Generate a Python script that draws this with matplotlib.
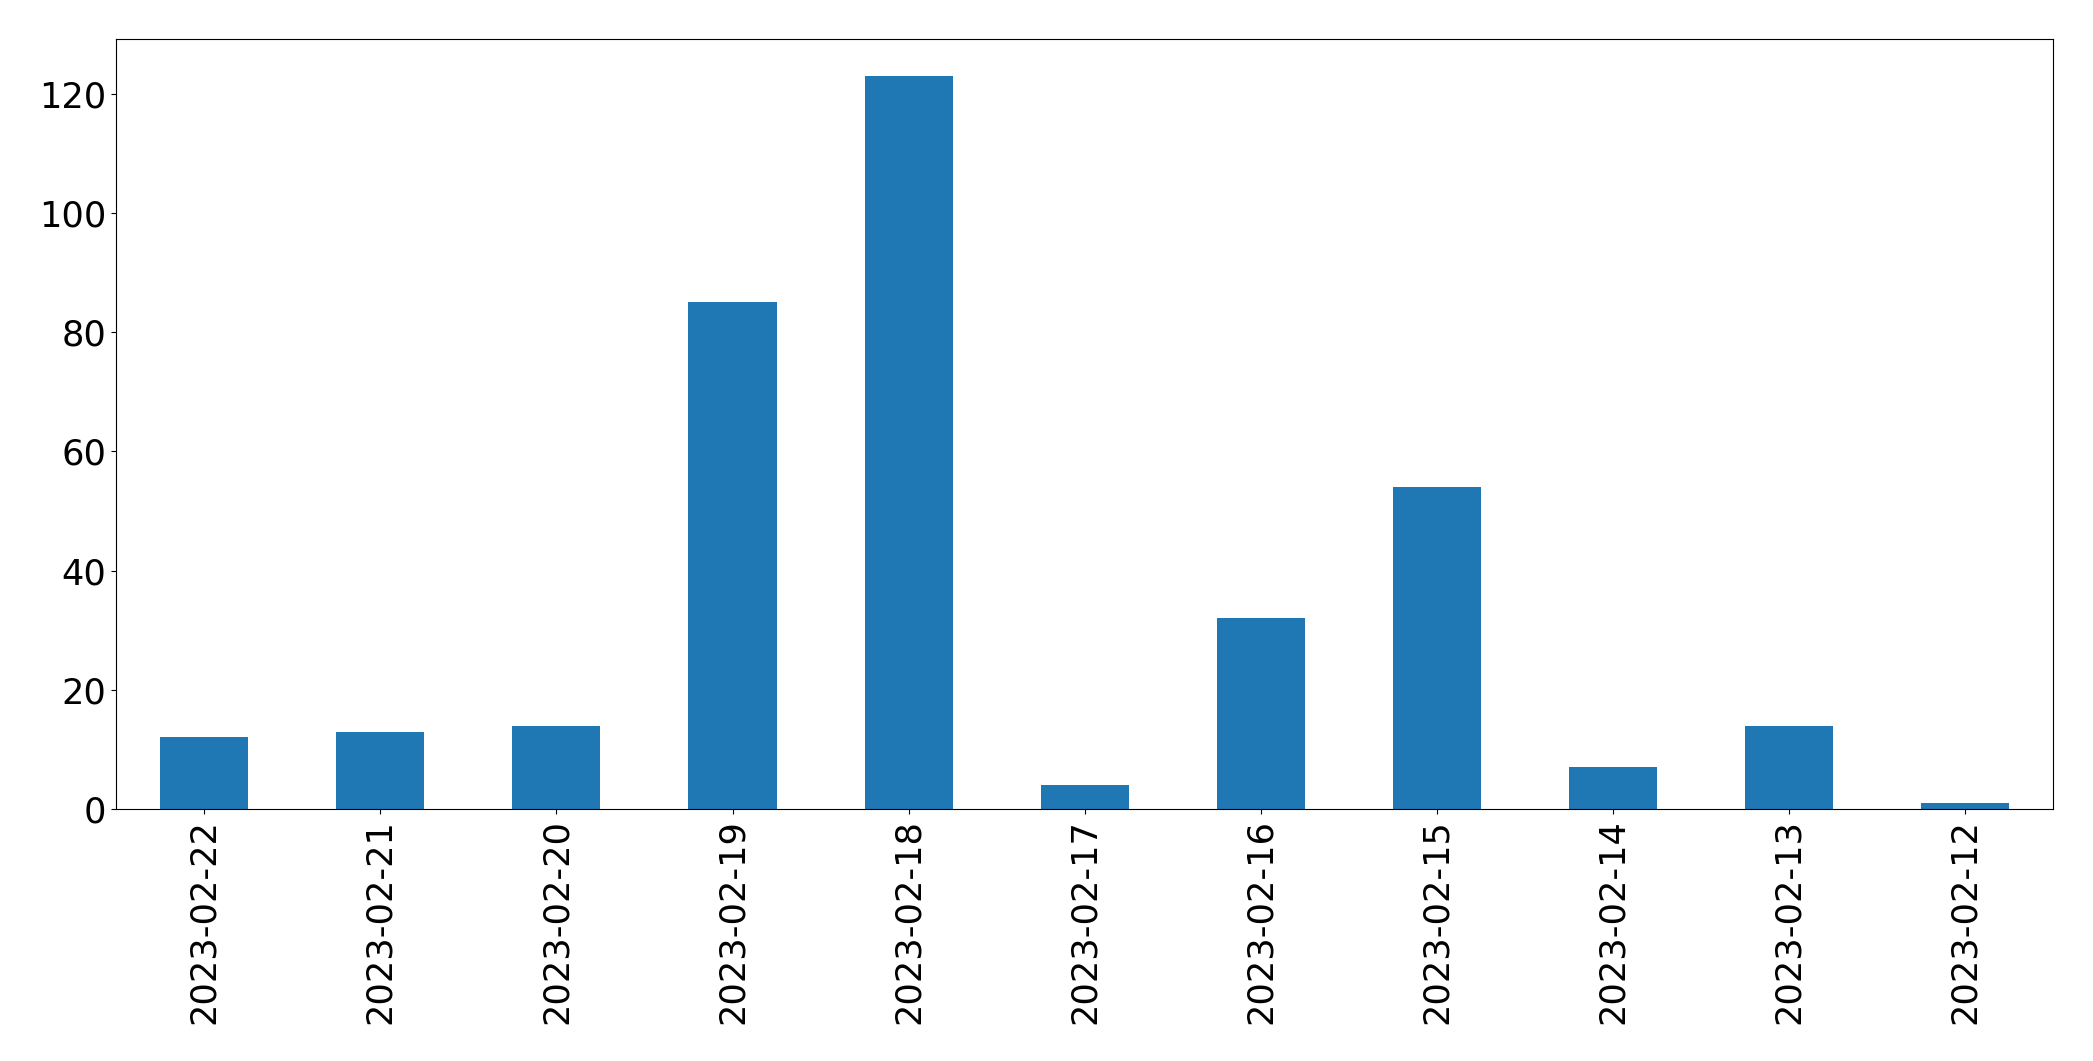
import matplotlib
matplotlib.use('Agg')
import matplotlib.pyplot as plt
import pandas as pd

# daily counts, newest first (as in the original chart)
dates = ['2023-02-22', '2023-02-21', '2023-02-20', '2023-02-19', '2023-02-18',
         '2023-02-17', '2023-02-16', '2023-02-15', '2023-02-14', '2023-02-13',
         '2023-02-12']
counts = [12, 13, 14, 85, 123, 4, 32, 54, 7, 14, 1]

s = pd.Series(counts, index=dates)

fig = plt.figure(figsize=(20.93, 10.61), dpi=100)
ax = fig.add_subplot(111)
s.plot(kind='bar', ax=ax, color='#1f77b4', fontsize=25.3)
fig.subplots_adjust(left=0.0555, right=0.981, top=0.963, bottom=0.2375)

plt.savefig('out.png', dpi=100)
